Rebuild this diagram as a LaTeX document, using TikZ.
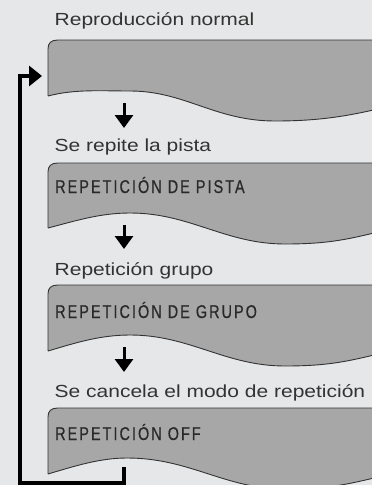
\documentclass[tikz,border=0pt]{standalone}
\usepackage{fontspec}
\usepackage{xcolor}
\usetikzlibrary{arrows.meta}
\newfontfamily\lblfont[FakeStretch=1.2]{Liberation Sans}
\newfontfamily\capfont[FakeStretch=0.78,LetterSpace=11,FakeBold=0.6]{Liberation Sans}
\definecolor{bgcol}{HTML}{E6E7E8}
\definecolor{panelcol}{HTML}{A7A7A7}
\definecolor{inkcol}{HTML}{333333}

\begin{document}
\begin{tikzpicture}[x=1pt, y=-1pt,
    panel/.style={fill=panelcol, draw=inkcol, line width=0.9pt},
    lbl/.style={anchor=base west, inner sep=0pt, text=inkcol, font=\lblfont\fontsize{17.5}{20}\selectfont},
    ptxt/.style={anchor=base west, inner sep=0pt, text=inkcol!80!black, font=\capfont\fontsize{18.5}{20}\selectfont},
    stepdown/.style={line width=3pt, -{Triangle[length=13pt, width=18pt]}},
    loopline/.style={line width=4pt, miter limit=10, -{Triangle[length=13pt, width=20pt]}}]
        % Background
        \clip (0,0) rectangle (372,485);
        \fill[bgcol] (0,0) rectangle (372,485);

        % First panel
        \begin{scope}[shift={(0,40)}]
            \draw[panel] (48,56) -- (48,9) .. controls (48,3) and (51,0) .. (58,0) -- (390,0)
                -- (390,66) .. controls (350,76) and (320,81) .. (275,81)
                .. controls (215,81) and (185,51) .. (130,51)
                .. controls (100,51) and (75,49) .. (48,56);
        \end{scope}

        % Second panel
        \begin{scope}[shift={(0,163)}]
            \draw[panel] (48,65) -- (48,9) .. controls (48,3) and (51,0) .. (58,0) -- (390,0)
                -- (390,66) .. controls (350,76) and (330,81) .. (285,81)
                .. controls (225,81) and (190,50) .. (130,50)
                .. controls (100,50) and (75,58) .. (48,65);
        \end{scope}

        % Third panel
        \begin{scope}[shift={(0,285)}]
            \draw[panel] (48,66) -- (48,9) .. controls (48,3) and (51,0) .. (58,0) -- (390,0)
                -- (390,66) .. controls (350,76) and (330,81) .. (285,81)
                .. controls (225,81) and (190,50) .. (130,50)
                .. controls (100,50) and (75,58) .. (48,66);
        \end{scope}

        % Fourth panel
        \begin{scope}[shift={(0,408)}]
            \draw[panel] (48,66) -- (48,9) .. controls (48,3) and (51,0) .. (58,0) -- (390,0)
                -- (390,66) .. controls (350,76) and (330,81) .. (285,81)
                .. controls (225,81) and (190,50) .. (127,50)
                .. controls (100,50) and (75,58) .. (48,66);
        \end{scope}

        % Labels above the panels
        \node[lbl] (normal) at (54.5,25) {Reproducción normal};
        \node[lbl] (pista) at (54.5,151) {Se repite la pista};
        \node[lbl] (grupo) at (54.5,275) {Repetición grupo};
        \node[lbl] (cancel) at (54.5,397) {Se cancela el modo de repetición};

        % Texts inside the panels
        \node[ptxt] (reppista) at (55,193) {REPETICIÓN DE PISTA};
        \node[ptxt] (repgrupo) at (55,318) {REPETICIÓN DE GRUPO};
        \node[ptxt] (repoff) at (55,440) {REPETICIÓN OFF};

        % Arrow ends
        \coordinate (D1) at (124,103);
        \coordinate (E1) at (124,128);
        \coordinate (D2) at (124,225);
        \coordinate (E2) at (124,249);
        \coordinate (D3) at (124,347);
        \coordinate (E3) at (124,372);
        \coordinate (L1) at (124,467);
        \coordinate (L2) at (19.5,483);
        \coordinate (L3) at (42,76);

        % Draw down arrows
        \draw[stepdown] (D1) -- (E1);
        \draw[stepdown] (D2) -- (E2);
        \draw[stepdown] (D3) -- (E3);

        % Draw the loop back
        \draw[loopline] (L1) |- (L2) |- (L3);
\end{tikzpicture}
\end{document}
